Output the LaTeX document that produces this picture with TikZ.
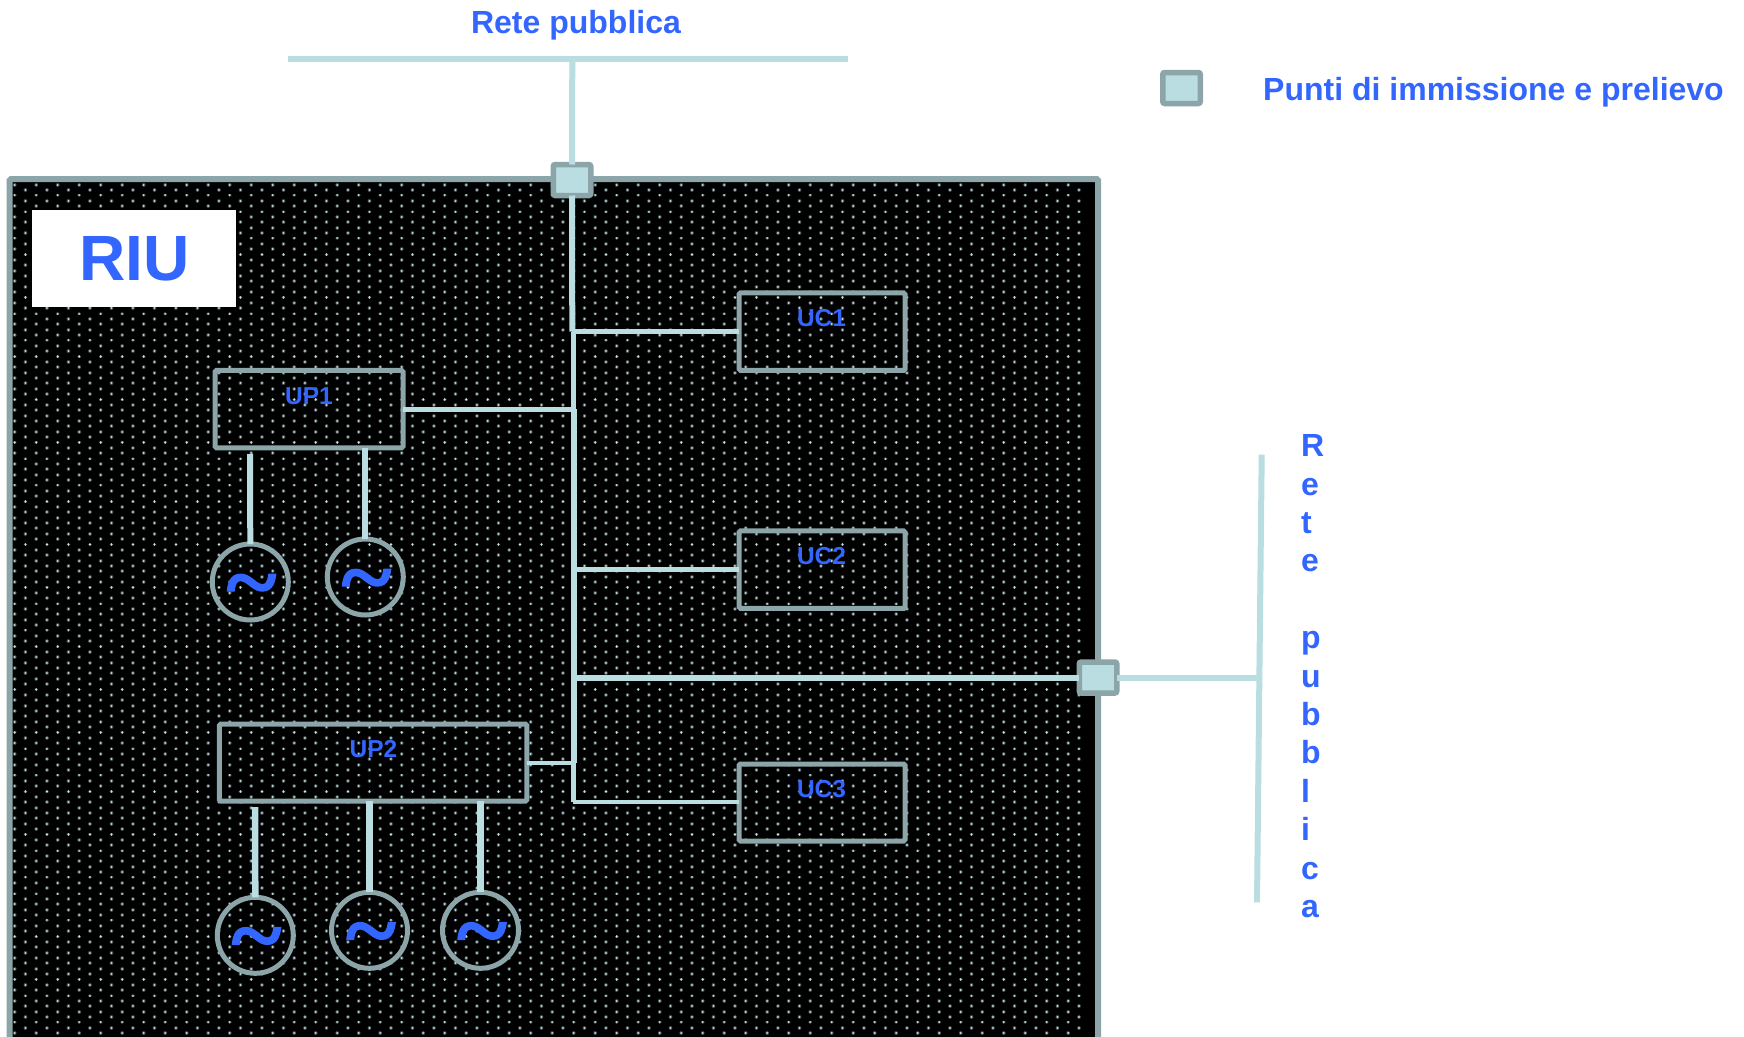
\documentclass[tikz,border=0pt]{standalone}
\usepackage{fontspec}
\setmainfont{Liberation Sans}
\newfontfamily\tildefont[BoldFeatures={FakeBold=1.5}]{Liberation Serif}
\definecolor{linec}{HTML}{B9DDE1}
\definecolor{strokec}{HTML}{8CA5A8}
\definecolor{textc}{HTML}{3366FF}
\definecolor{dotc}{HTML}{CCE0E0}
\definecolor{haloc}{HTML}{3C4A4A}
\tikzset{
  wire/.style={draw=linec,line width=#1,line cap=butt,line join=miter},
  wire/.default=4pt,
  unitbox/.style={draw=strokec,line width=5pt,rounded corners=1.5pt,inner sep=0pt,outer sep=0pt,rectangle},
  portbox/.style={draw=strokec,fill=linec,line width=5.5pt,rounded corners=2pt,inner sep=0pt,outer sep=0pt,rectangle,minimum width=37.5pt,minimum height=31pt},
  genbox/.style={draw=strokec,line width=5pt,circle,inner sep=0pt,outer sep=0pt,minimum size=76pt},
  tildetext/.style={text=textc,font=\tildefont\fontsize{85}{85}\bfseries\selectfont,inner sep=0pt,anchor=base,transform shape,xscale=1.12,yscale=1.05},
  unitlabel/.style={text=textc,font=\fontsize{24.5}{26}\bfseries\selectfont,inner sep=0pt,anchor=base},
  bluetext/.style={text=textc,font=\fontsize{32}{38.4}\bfseries\selectfont,inner sep=0pt}
}
\begin{document}
\begin{tikzpicture}[x=1pt,y=-1pt]
\useasboundingbox (0,0) rectangle (1744,1036);
\clip (0,0) rectangle (1744,1036);
% plant area
\fill[black] (9.5,179) rectangle (1098,1040);
\foreach \r in {0,...,159}{
  \pgfmathsetmacro{\yy}{184.7+5.37*\r}
  \pgfmathsetmacro{\xs}{isodd(\r)?25.45:14.7}
  \draw[haloc,line cap=round,line width=3.8pt] \foreach \c in {0,...,49}{ ({\xs+21.5*\c},\yy) -- ++(0.02,0) };
  \draw[dotc,line cap=round,line width=2.1pt] \foreach \c in {0,...,49}{ ({\xs+21.5*\c},\yy) -- ++(0.02,0) };
}
\node[draw=strokec,line width=6pt,rounded corners=1.5pt,rectangle,inner sep=0pt,outer sep=0pt,minimum width=1088.5pt,minimum height=880pt,anchor=north west] (riuarea) at (9.5,179) {};
\node[fill=white,inner sep=0pt,outer sep=0pt,minimum width=204pt,minimum height=97pt,text=textc,font=\fontsize{64}{64}\bfseries\selectfont] (riu) at (134,258.5) {\raisebox{-2pt}{\hspace{1pt}RIU}};
% nodes
\node[unitbox,minimum width=166pt,minimum height=77.5pt] (uc1) at (822,331.7) {};
\node[unitbox,minimum width=166pt,minimum height=77.5pt] (uc2) at (822,569.7) {};
\node[unitbox,minimum width=166pt,minimum height=77pt] (uc3) at (822,802.5) {};
\node[unitbox,minimum width=188pt,minimum height=77.5pt] (up1) at (309,409.2) {};
\node[unitbox,minimum width=307.5pt,minimum height=77pt] (up2) at (373.2,762.5) {};
\node[genbox] (g1) at (250.3,582) {};
\node[genbox] (g2) at (365.3,577) {};
\node[genbox] (g3) at (255.3,935.3) {};
\node[genbox] (g4) at (369.5,930.3) {};
\node[genbox] (g5) at (480.5,930.3) {};
\node[tildetext] (t1) at (251.5,612) {\textasciitilde};
\node[tildetext] (t2) at (366.5,607) {\textasciitilde};
\node[tildetext] (t3) at (256.5,965.3) {\textasciitilde};
\node[tildetext] (t4) at (371,960.3) {\textasciitilde};
\node[tildetext] (t5) at (482,960.3) {\textasciitilde};
\node[unitlabel] (luc1) at (821.5,326) {UC1};
\node[unitlabel] (luc2) at (821.5,564) {UC2};
\node[unitlabel] (luc3) at (821.5,797) {UC3};
\node[unitlabel] (lup1) at (309,404) {UP1};
\node[unitlabel] (lup2) at (373.5,757) {UP2};
% junctions and free ends
\coordinate (topl) at (288,58.5);
\coordinate (topr) at (848,58.5);
\coordinate (topj) at (572.3,58.5);
\coordinate (rt) at (1261.7,454.7);
\coordinate (rb) at (1257,902.3);
\coordinate (rj) at (1259,678);
\coordinate (j1) at (572.3,331.7);
\coordinate (j2) at (574.3,409.3);
\coordinate (j3) at (574.3,763);
\coordinate (j4) at (573.3,802);
\coordinate (j5) at (575,569);
\coordinate (j6) at (575,678);
\coordinate (s1) at (250,454);
\coordinate (s3) at (255,807);
% wires
\draw[wire=6pt] (topl) -- (topr);
\draw[wire=6pt] (rt) -- (rb);
\node[portbox] (ptop) at (572,180) {};
\node[portbox] (pright) at (1098,677.5) {};
\node[portbox] (plegend) at (1181.5,88) {};
\draw[wire=6pt] (topj) -- (ptop.north);
\draw[wire=6pt] (ptop.south) -- (j1);
\draw[wire=4.4pt] (j1 -| j4) -- (j2 -| j4);
\draw[wire=6pt] (j2) -- (j3);
\draw[wire=4.4pt] (j3 -| j4) -- (j4);
\draw[wire=4.6pt] (j1) -- (uc1.west);
\draw[wire=4.6pt] (up1.east) -- ++(173,0);
\draw[wire=5pt] (j5) -- (uc2.west |- j5);
\draw[wire=6pt] (j6) -- (pright.west |- j6);
\draw[wire=6pt] (pright.east |- j6) -- (rj);
\draw[wire=4.6pt] (up2.east |- j3) -- ++(49,0);
\draw[wire=4.6pt] (j4) -- (uc3.west |- j4);
\draw[wire=6pt] (s1) -- (g1.north);
\draw[wire=6pt] (up1.south -| g2.north) -- (g2.north);
\draw[wire=6.5pt] (s3) -- (g3.north);
\draw[wire=6.5pt] (up2.south -| g4.north) -- (g4.north);
\draw[wire=6.5pt] (up2.south -| g5.north) -- (g5.north);
% outside texts
\node[bluetext,anchor=base] (rete1) at (576,33) {Rete pubblica};
\node[bluetext,anchor=base west] (legend) at (1263,100) {Punti di immissione e prelievo};
\node[bluetext,anchor=north west,align=left] (rete2) at (1301,434.5) {R\\e\\t\\e\\\mbox{}\\p\\u\\b\\b\\l\\i\\c\\a};
\end{tikzpicture}
\end{document}
